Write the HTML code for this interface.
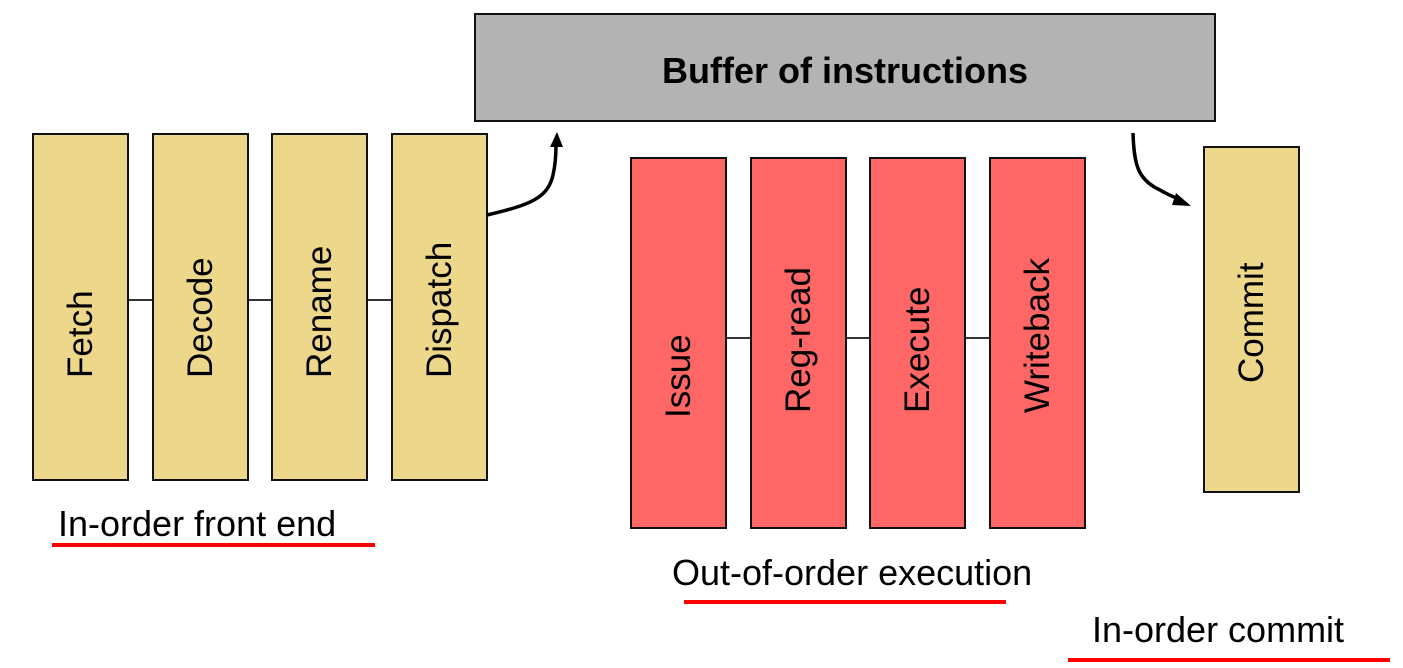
<!DOCTYPE html>
<html><head><style>
body{margin:0;width:1403px;height:668px;background:#fff;position:relative;overflow:hidden;font-family:"Liberation Sans",Arial,sans-serif}
.b{position:absolute;box-sizing:border-box;border:2px solid #111}
.y{background:#ecd78a}.r{background:#ff6666}
.t{position:absolute;left:50%;white-space:nowrap;font-size:35px;transform-origin:0 0;transform:rotate(-90deg);line-height:35px;margin-left:-18px}
.l{position:absolute;font-size:36px;white-space:nowrap;line-height:36px}
.u{position:absolute;height:4px;background:#f00}
.h{position:absolute;height:2px;background:#333}
</style></head><body>
<div class="b" style="left:474px;top:13px;width:742px;height:109px;background:#b3b3b3;text-align:center;font-weight:bold;font-size:36px;line-height:111px">Buffer of instructions</div>

<div class="h" style="left:128px;top:299px;width:25px"></div>
<div class="h" style="left:247px;top:299px;width:25px"></div>
<div class="h" style="left:366px;top:299px;width:26px"></div>
<div class="b y" style="left:32px;top:133px;width:97px;height:348px"><div class="t" style="top:243px">Fetch</div></div>
<div class="b y" style="left:152px;top:133px;width:97px;height:348px"><div class="t" style="top:243px">Decode</div></div>
<div class="b y" style="left:271px;top:133px;width:97px;height:348px"><div class="t" style="top:243px">Rename</div></div>
<div class="b y" style="left:391px;top:133px;width:97px;height:348px"><div class="t" style="top:243px">Dispatch</div></div>

<div class="h" style="left:725px;top:337px;width:26px"></div>
<div class="h" style="left:845px;top:337px;width:25px"></div>
<div class="h" style="left:964px;top:337px;width:26px"></div>
<div class="b r" style="left:630px;top:157px;width:97px;height:372px"><div class="t" style="top:259px">Issue</div></div>
<div class="b r" style="left:750px;top:157px;width:97px;height:372px"><div class="t" style="top:254px">Reg-read</div></div>
<div class="b r" style="left:869px;top:157px;width:97px;height:372px"><div class="t" style="top:254px">Execute</div></div>
<div class="b r" style="left:989px;top:157px;width:97px;height:372px"><div class="t" style="top:254px">Writeback</div></div>

<div class="b y" style="left:1203px;top:146px;width:97px;height:347px"><div class="t" style="top:235px">Commit</div></div>

<svg style="position:absolute;left:0;top:0" width="1403" height="668">
<path d="M487 215 C530 205 548 198 553 175 C556 162 556 152 556 145" fill="none" stroke="#000" stroke-width="3.5"/>
<polygon points="550,147 563,147 557,132" fill="#000"/>
<path d="M1133 133 C1134 165 1138 180 1160 190 C1168 195 1175 197 1180 200" fill="none" stroke="#000" stroke-width="3.5"/>
<polygon points="1176,193 1191,206 1172,205" fill="#000"/>
</svg>

<div class="l" style="left:58px;top:506px">In-order front end</div>
<div class="u" style="left:52px;top:543px;width:323px"></div>
<div class="l" style="left:672px;top:555px">Out-of-order execution</div>
<div class="u" style="left:684px;top:600px;width:322px"></div>
<div class="l" style="left:1092px;top:612px">In-order commit</div>
<div class="u" style="left:1068px;top:658px;width:322px"></div>
</body></html>
